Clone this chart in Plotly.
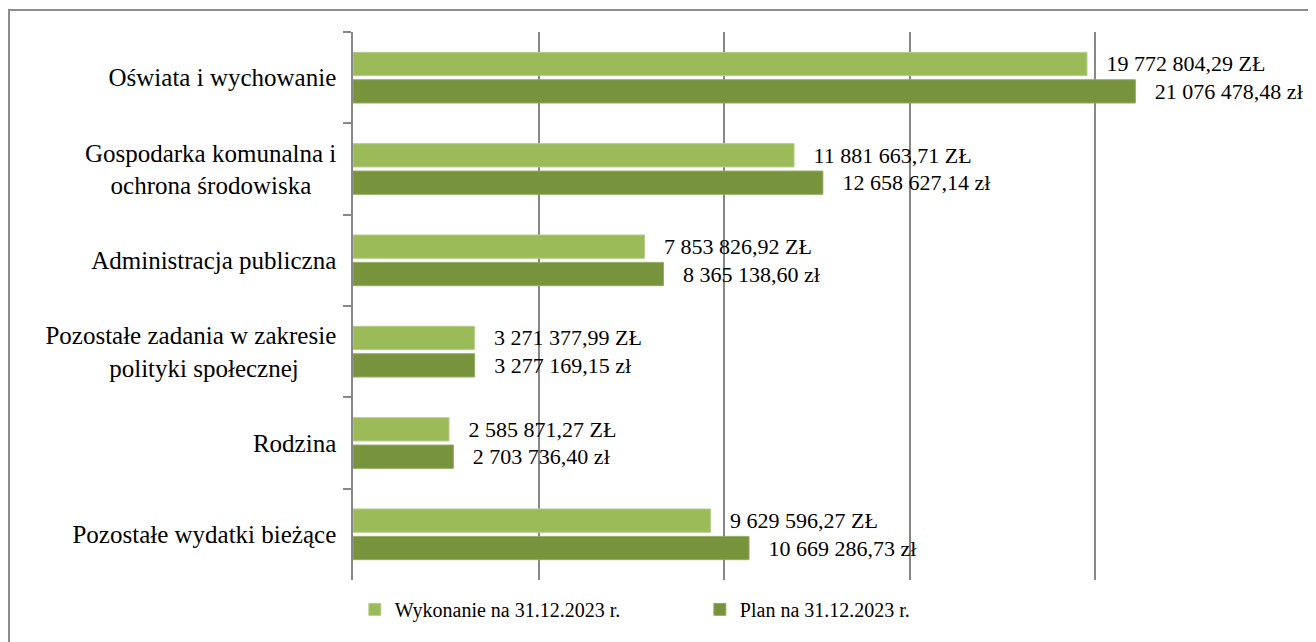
import plotly.graph_objects as go

categories = [
    "Oświata i wychowanie",
    "Gospodarka komunalna i<br>ochrona środowiska\u00a0\u00a0\u00a0\u00a0",
    "Administracja publiczna",
    "Pozostałe zadania w zakresie<br>polityki społecznej\u00a0\u00a0\u00a0\u00a0\u00a0\u00a0",
    "Rodzina",
    "Pozostałe wydatki bieżące",
]
wykonanie = [19772804.29, 11881663.71, 7853826.92, 3271377.99, 2585871.27, 9629596.27]
plan = [21076478.48, 12658627.14, 8365138.60, 3277169.15, 2703736.40, 10669286.73]


def fmt(v, unit):
    s = f"{v:,.2f}".replace(",", " ").replace(".", ",")
    return "\u00a0\u00a0\u00a0" + s + " " + unit


FONT = "Liberation Serif"
GRID = "#878787"

fig = go.Figure()
fig.add_trace(go.Bar(
    y=categories, x=wykonanie, orientation="h", name="Wykonanie na 31.12.2023 r.",
    marker=dict(color="#9BBB59", line=dict(color="#B5CC88", width=1)),
    text=[fmt(v, "ZŁ") for v in wykonanie], textposition="outside",
    constraintext="none", cliponaxis=False,
    textfont=dict(family=FONT, size=22, color="black"),
))
fig.add_trace(go.Bar(
    y=categories, x=plan, orientation="h", name="Plan na 31.12.2023 r.",
    marker=dict(color="#77933C", line=dict(color="#93AC63", width=1)),
    text=[fmt(v, "zł") for v in plan], textposition="outside",
    constraintext="none", cliponaxis=False,
    textfont=dict(family=FONT, size=22, color="black"),
))

fig.update_layout(
    width=1316, height=642,
    margin=dict(l=345, r=43, t=24, b=70),
    paper_bgcolor="white", plot_bgcolor="white",
    barmode="group", bargap=0.4, bargroupgap=0.15,
    font=dict(family=FONT, size=25, color="black"),
    legend=dict(orientation="h", x=0.002, xanchor="left", y=-0.018, yanchor="top",
                font=dict(family=FONT, size=20), entrywidth=300, entrywidthmode="pixels",
                itemwidth=30),
    showlegend=True,
)
fig.update_xaxes(range=[0, 25000000], dtick=5000000, showgrid=True, gridcolor=GRID,
                 gridwidth=1.5, showticklabels=False, zeroline=False, showline=False)
fig.update_yaxes(autorange="reversed", showline=True, linecolor=GRID, linewidth=1.5,
                 ticks="outside", tickson="boundaries", ticklen=8, tickcolor=GRID,
                 tickwidth=1.5, ticklabelstandoff=10, showgrid=False)

fig.add_shape(type="rect", xref="paper", yref="paper",
              x0=(9 - 353) / 928, x1=(1312 - 353) / 928,
              y0=(580 - 660) / 548, y1=(580 - 10) / 548,
              line=dict(color="#8C8C8C", width=2))

fig.write_html("out.html")
